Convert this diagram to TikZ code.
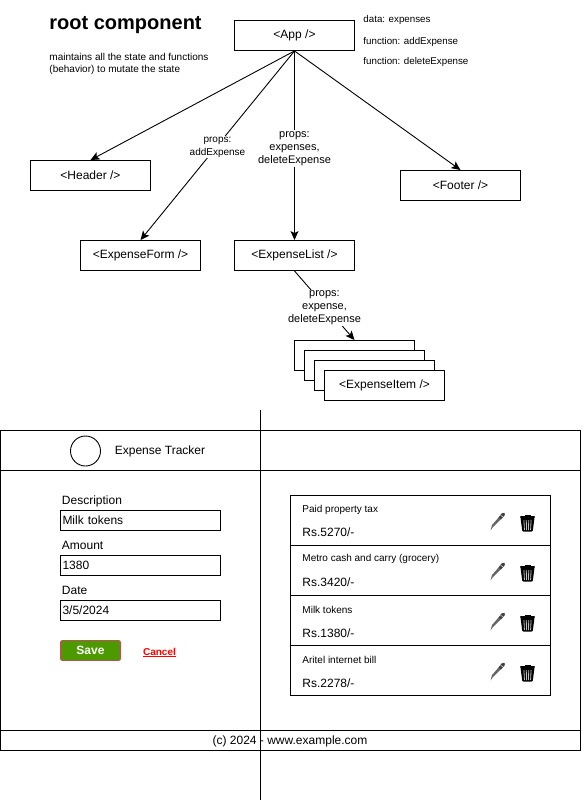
\documentclass[tikz,border=0pt]{standalone}
\usepackage{fontspec}
\setmainfont{Liberation Sans}
\usetikzlibrary{arrows.meta,positioning}
\usepackage{xcolor}
\definecolor{savegreen}{HTML}{4D9900}
\definecolor{saveline}{HTML}{B85450}
\newcommand{\fsize}[1]{\fontsize{#1}{13}\selectfont}

\begin{document}
\begin{tikzpicture}[x=1pt,y=-1pt,line width=0.9pt,>={Stealth[length=9pt,width=8pt,inset=2pt]}]
      \tikzstyle{comp} = [rectangle, draw, fill=white, minimum width=120pt, minimum height=30pt, inner sep=0pt, font=\fsize{12}]
      \tikzstyle{props} = [fill=white, align=center, inner sep=1pt, font=\fsize{11}]
      \tikzstyle{side} = [anchor=west, inner sep=0pt, font=\fsize{9.75}]
      \tikzstyle{flabel} = [anchor=west, inner sep=0pt, font=\fsize{12}]
      \tikzstyle{field} = [rectangle, draw, minimum width=160pt, minimum height=20pt, inner sep=2pt, text width=156pt, font=\fsize{12}]
      \tikzstyle{row} = [rectangle, draw, minimum width=260pt, minimum height=50pt]
      \tikzstyle{rowtitle} = [anchor=west, inner sep=0pt, font=\fsize{10}]
      \tikzstyle{rowamount} = [anchor=west, inner sep=0pt, font=\fsize{12}]
      \tikzset{
        penicon/.pic={
          \fill[black!60] (-7,9.5) -- (-5.5,4) -- (1.5,-4) -- (3.5,-2) -- (-4.5,6) -- cycle;
          \fill[black!75] (1,-3.5) -- (4,-7.5) .. controls (5.5,-9.5) and (8.5,-8) .. (7,-5.5) -- (3.5,-1.5) -- cycle;
          \draw[white, line width=0.4pt] (3,-6) -- (6,-3.5);
        },
        binicon/.pic={
          \fill[black, rounded corners=0.8pt] (-7.5,-7) rectangle (7.5,-5);
          \fill[black] (-3,-8.5) rectangle (3,-6.5);
          \fill[black, rounded corners=1pt] (-7,-5.5) -- (7,-5.5) -- (5.2,8.5) -- (-5.2,8.5) -- cycle;
          \foreach \bx in {-3.6,-1.2,1.2,3.6}
            \draw[black!25, line width=0.8pt] (\bx,-3) -- (\bx*0.85,7);
        }
      }

      \useasboundingbox (0,0) rectangle (582,802);

      % component tree
      \node[comp] (app) at (294.5,35.5) {<App />};
      \node[comp] (header) at (90.5,175.5) {<Header />};
      \node[comp] (form) at (140.5,255.5) {<ExpenseForm />};
      \node[comp] (list) at (294.5,255.5) {<ExpenseList />};
      \node[comp] (footer) at (460.5,185.5) {<Footer />};

      \node[comp] (item1) at (354.5,355.5) {};
      \node[comp] (item2) at (364.5,365.5) {};
      \node[comp] (item3) at (374.5,375.5) {};
      \node[comp] (item4) at (384.5,385.5) {<ExpenseItem />};

      \node[anchor=west, inner sep=0pt, font=\fsize{20}\bfseries] (title) at (49,25) {root component};
      \node[anchor=north west, inner sep=0pt, align=left, font=\fontsize{10}{12}\selectfont] (desc) at (49,52.5) {maintains all the state and functions\\(behavior) to mutate the state};

      \node[side] (data) at (363,20) {data: expenses};
      \node[side] (fadd) at (363,42) {function: addExpense};
      \node[side] (fdel) at (363,62) {function: deleteExpense};

      \draw[->] (app.south) -- (header.north);
      \draw[->] (app.south) -- (footer.north);
      \draw[->] (app.south) -- node[props, pos=0.5, yshift=-1.5pt, font=\fsize{10}] {props:\\addExpense} (form.north);
      \draw[->] (app.south) -- node[props, pos=0.5, yshift=-3pt] {props:\\expenses,\\deleteExpense} (list.north);
      \draw[->] (list.south) -- node[props, pos=0.5, yshift=-2.5pt] {props:\\expense,\\deleteExpense} (item1.north);

      % wireframe
      \node[draw, minimum width=580pt, minimum height=320pt, inner sep=0pt] (page) at (290.5,590.5) {};
      \coordinate (headl) at (0.5,470.5);
      \coordinate (headr) at (580.5,470.5);
      \coordinate (footl) at (0.5,730.5);
      \coordinate (footr) at (580.5,730.5);
      \coordinate (vtop) at (260.5,410);
      \coordinate (vbot) at (260.5,800);
      \draw (headl) -- (headr);
      \draw (footl) -- (footr);
      \draw (vtop) -- (vbot);

      \node[draw, circle, minimum size=30pt, inner sep=0pt] (logo) at (85.5,451) {};
      \node[inner sep=0pt, font=\fsize{12}] (brand) at (160,451) {Expense Tracker};
      \node[inner sep=0pt, font=\fsize{12}] (copy) at (290,741) {(c) 2024 - www.example.com};

      \node[flabel] (ldesc) at (61.5,501) {Description};
      \node[field] (fdesc) at (140.5,520.5) {Milk tokens};
      \node[flabel] (lamt) at (61.5,545.5) {Amount};
      \node[field] (famt) at (140.5,565.5) {1380};
      \node[flabel] (ldate) at (61.5,590.5) {Date};
      \node[field] (fdate) at (140.5,610.5) {3/5/2024};

      \node[rectangle, rounded corners=2pt, draw=saveline, fill=savegreen, text=white, minimum width=60pt, minimum height=20pt, inner sep=0pt, font=\fsize{12}\bfseries] (save) at (90.5,650.5) {Save};
      \node[inner sep=0pt, text=red, font=\fsize{10}\bfseries] (cancel) at (159.5,652.5) {\underline{Cancel}};

      \node[row] (row1) at (420.5,520.5) {};
      \node[row] (row2) at (420.5,570.5) {};
      \node[row] (row3) at (420.5,620.5) {};
      \node[row] (row4) at (420.5,670.5) {};

      \node[rowtitle] (t1) at (302,509.5) {Paid property tax};
      \node[rowamount] (a1) at (302,532) {Rs.5270/-};
      \node[rowtitle] (t2) at (302,559) {Metro cash and carry (grocery)};
      \node[rowamount] (a2) at (302,582) {Rs.3420/-};
      \node[rowtitle] (t3) at (302,609.5) {Milk tokens};
      \node[rowamount] (a3) at (302,633) {Rs.1380/-};
      \node[rowtitle] (t4) at (302,660) {Aritel internet bill};
      \node[rowamount] (a4) at (302,683) {Rs.2278/-};

      \foreach \ry in {521,571,621,671} {
        \pic at (497.5,\ry) {penicon};
        \pic at (527.5,\ry+2) {binicon};
      }
    \end{tikzpicture}
\end{document}
